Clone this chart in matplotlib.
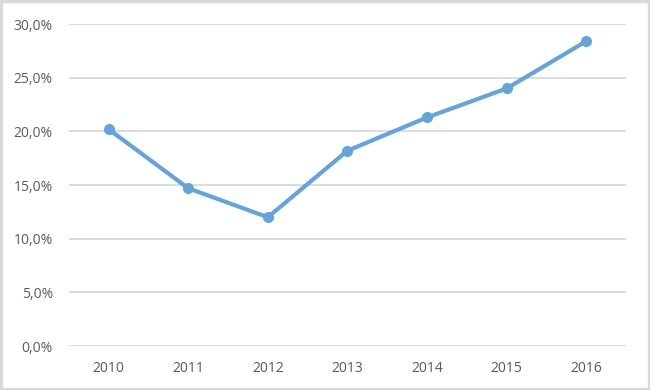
import matplotlib
matplotlib.use("Agg")
import matplotlib.pyplot as plt
from matplotlib.patches import Rectangle

# data
years = ["2010", "2011", "2012", "2013", "2014", "2015", "2016"]
values = [20.2, 14.7, 12.0, 18.2, 21.3, 24.0, 28.4]
y_ticks = [0, 5, 10, 15, 20, 25, 30]

plt.rcParams['font.family'] = ['Open Sans', 'DejaVu Sans']

fig = plt.figure(figsize=(6.5, 3.9), dpi=100)
ax = fig.add_axes([0.106, 0.1128, 0.857, 0.8254])

x = list(range(len(years)))
ax.plot(x, values, color='#65A3D8', linewidth=3, marker='o',
        markersize=7, solid_capstyle='round', zorder=3)

ax.set_xlim(-0.5, len(years) - 0.5)
ax.set_ylim(0, 30)
ax.set_yticks(y_ticks)
ax.set_yticklabels([f"{v:.1f}%".replace('.', ',') for v in y_ticks])
ax.set_xticks(x)
ax.set_xticklabels(years)

ax.grid(axis='y', color='#d9d9d9', linewidth=1.3)
ax.set_axisbelow(True)
for s in ax.spines.values():
    s.set_visible(False)
ax.tick_params(length=0, colors='#595959', labelsize=10)
ax.tick_params(axis='y', pad=11.5)
ax.tick_params(axis='x', pad=11)

# light frame around the chart
fig.patches.append(Rectangle((0.002, 0.003), 0.996, 0.994, transform=fig.transFigure,
                             fill=False, edgecolor='#d9d9d9', linewidth=2.5))

fig.savefig("out.png", dpi=100)
